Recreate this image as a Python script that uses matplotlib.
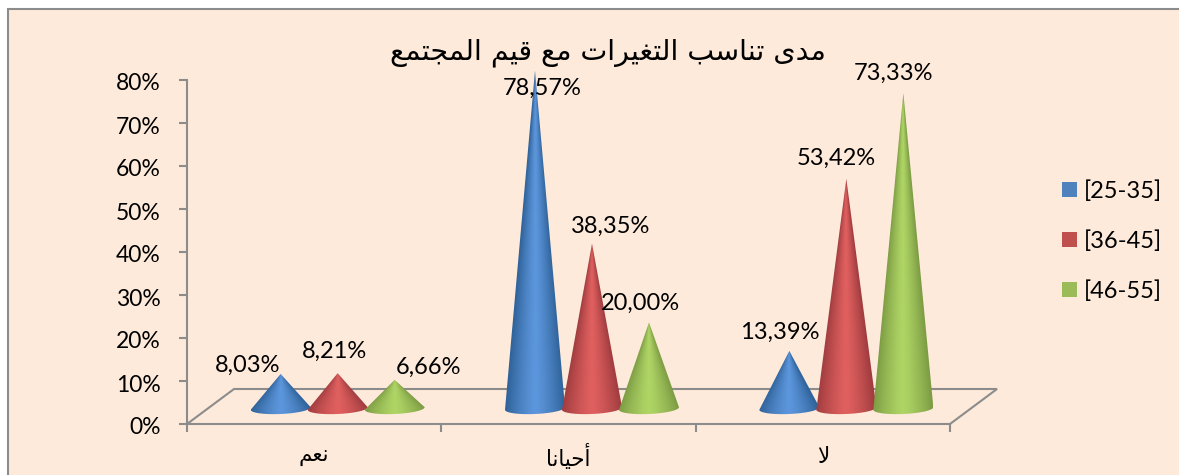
import numpy as np
import matplotlib
matplotlib.use("Agg")
import matplotlib.pyplot as plt
from matplotlib.patches import Polygon, Rectangle, Patch
from matplotlib.transforms import ScaledTranslation

W, H = 1179, 475

title = "مدى تناسب التغيرات مع قيم المجتمع"
categories = ["نعم", "أحيانا", "لا"]
series_names = ["[25-35]", "[36-45]", "[46-55]"]
values_25_35 = [8.03, 78.57, 13.39]
values_36_45 = [8.21, 38.35, 53.42]
values_46_55 = [6.66, 20.00, 73.33]
y_ticks = [0, 10, 20, 30, 40, 50, 60, 70, 80]

# legend colour, cone edge colour, cone centre colour
colors = [("#4F81BD", "#2f6299", "#5c96dc"),
          ("#C0504D", "#a03c3f", "#e0605f"),
          ("#9BBB59", "#7d9c44", "#afd565")]

# label offsets from the cone tip, in pixels (x right, y up)
label_offsets = [[(-33, 9), (7, -18), (-10, 19)],
                 [(-3, 22), (19, 17), (-10, 20)],
                 [(34, 13), (-9, 19), (-10, 20)]]

# matplotlib has no arabic shaping, so pick the presentation forms by hand
forms = {
    "ا": (0xFE8D, 0xFE8E), "أ": (0xFE83, 0xFE84), "د": (0xFEA9, 0xFEAA),
    "ر": (0xFEAD, 0xFEAE), "ى": (0xFEEF, 0xFEF0),
    "ب": (0xFE8F, 0xFE90, 0xFE91, 0xFE92), "ت": (0xFE95, 0xFE96, 0xFE97, 0xFE98),
    "ج": (0xFE9D, 0xFE9E, 0xFE9F, 0xFEA0), "ح": (0xFEA1, 0xFEA2, 0xFEA3, 0xFEA4),
    "س": (0xFEB1, 0xFEB2, 0xFEB3, 0xFEB4), "ع": (0xFEC9, 0xFECA, 0xFECB, 0xFECC),
    "غ": (0xFECD, 0xFECE, 0xFECF, 0xFED0), "ق": (0xFED5, 0xFED6, 0xFED7, 0xFED8),
    "ل": (0xFEDD, 0xFEDE, 0xFEDF, 0xFEE0), "م": (0xFEE1, 0xFEE2, 0xFEE3, 0xFEE4),
    "ن": (0xFEE5, 0xFEE6, 0xFEE7, 0xFEE8), "ي": (0xFEF1, 0xFEF2, 0xFEF3, 0xFEF4),
}

def shape(text):
    text = text.replace("لا", "\uFEFB")
    out = []
    for i, c in enumerate(text):
        if c not in forms:
            out.append(c)
            continue
        prev = text[i - 1] if i > 0 else " "
        nxt = text[i + 1] if i < len(text) - 1 else " "
        joins_prev = prev in forms and len(forms[prev]) == 4
        joins_next = len(forms[c]) == 4 and (nxt in forms or nxt == "\uFEFB")
        if joins_prev and joins_next:
            k = 3
        elif joins_next:
            k = 2
        elif joins_prev:
            k = 1
        else:
            k = 0
        out.append(chr(forms[c][k]))
    return "".join(out)[::-1]

plt.rcParams["font.family"] = ["Lato", "DejaVu Sans"]

fig = plt.figure(figsize=(W / 100, H / 100), dpi=100, facecolor="white")
fig.add_artist(Rectangle((8 / W, -0.1), 1.1, 0.1 + (H - 9) / H,
                         transform=fig.transFigure, facecolor="#FDEADA",
                         edgecolor="#8c8c8c", linewidth=1.5, zorder=-5))

ax = fig.add_axes([187 / W, (H - 424) / H, (950 - 187) / W, (424 - 80) / H])
ax.patch.set_alpha(0)
ax.set_xlim(-0.5, 2.5)
ax.set_ylim(0, 80)

unit_x = (950 - 187) / 3
unit_y = (424 - 80) / 80
depth_x = 47 / unit_x
depth_y = 35 / unit_y

# floor of the fake 3d box
floor = Polygon([(-0.5, 0), (-0.5 + depth_x, depth_y), (2.5 + depth_x, depth_y), (2.5, 0)],
                closed=False, fill=False, edgecolor="#8c8c8c", linewidth=1.5, clip_on=False)
ax.add_patch(floor)

spacing = 57 / unit_x
half_width = 30 / unit_x
base_level = 15.5 / unit_y
radius_y = 5.5 / unit_y
tilt = 1.3 / unit_y

all_values = [values_25_35, values_36_45, values_46_55]
for s, vals in enumerate(all_values):
    edge = np.array(matplotlib.colors.to_rgb(colors[s][1]))
    centre = np.array(matplotlib.colors.to_rgb(colors[s][2]))
    for c, v in enumerate(vals):
        xc = c + depth_x / 2 + (s - 1) * spacing
        tip = v + base_level
        theta = np.linspace(np.pi, 2 * np.pi, 40)
        arc_x = xc + half_width * np.cos(theta)
        arc_y = base_level + radius_y * np.sin(theta) + tilt * np.cos(theta)
        outline = np.vstack([[xc, tip], np.column_stack([arc_x, arc_y])])
        clip = Polygon(outline, closed=True, transform=ax.transData, facecolor="none", edgecolor="none")
        ax.add_patch(clip)

        low = base_level - radius_y - tilt
        gx = np.linspace(xc - half_width, xc + half_width, 120)
        gy = np.linspace(low, tip, 300)
        xx, yy = np.meshgrid(gx, gy)
        t = np.clip((yy - base_level) / (tip - base_level), 0, 0.995)
        u = np.clip(np.abs(xx - xc) / (half_width * (1 - t)), 0, 1)
        shade = (1 - u ** 1.3)[..., None]
        img = edge + (centre - edge) * shade
        im = ax.imshow(img, extent=(gx[0], gx[-1], gy[0], gy[-1]), origin="lower",
                       aspect="auto", zorder=3 + s, interpolation="bilinear")
        im.set_clip_box(fig.bbox)
        im.set_clip_path(clip)

        off = label_offsets[s][c]
        ax.annotate(f"{v:.2f}%".replace(".", ","), xy=(xc, tip), xytext=off,
                    textcoords="offset pixels", ha="center", va="center",
                    fontsize=17, color="black", zorder=10, annotation_clip=False)

ax.set_xlim(-0.5, 2.5)
ax.set_ylim(0, 80)

for side in ["top", "right"]:
    ax.spines[side].set_visible(False)
for side in ["left", "bottom"]:
    ax.spines[side].set_color("#8c8c8c")
    ax.spines[side].set_linewidth(1.5)

ax.set_yticks(y_ticks)
ax.set_yticklabels([f"{t}%" for t in y_ticks], fontsize=16.5, va="center_baseline")
ax.tick_params(axis="y", direction="out", length=6, width=1.5, color="#8c8c8c", pad=13)
# tick labels sit a little below their ticks in the original
for label in ax.get_yticklabels():
    label.set_transform(label.get_transform() + ScaledTranslation(0, -2 / 100, fig.dpi_scale_trans))
ax.set_xticks([-0.5, 0.5, 1.5, 2.5])
ax.set_xticklabels([])
ax.tick_params(axis="x", which="major", direction="out", length=6, width=1.5, color="#8c8c8c")
ax.set_xticks([0, 1, 2], minor=True)
ax.set_xticklabels([shape(c) for c in categories], minor=True, fontsize=15.5,
                   family=["DejaVu Sans"], va="center")
ax.tick_params(axis="x", which="minor", length=0, pad=24)

handles = [Patch(facecolor=colors[i][0], edgecolor="none") for i in range(3)]
fig.legend(handles, series_names, loc="center left", bbox_to_anchor=(1062 / W, (H - 241) / H),
           frameon=False, fontsize=17, handlelength=0.63, handleheight=0.63,
           handletextpad=0.3, labelspacing=1.2, borderpad=0, borderaxespad=0)

fig.text(608 / W, (H - 53) / H, shape(title), ha="center", va="center",
         fontsize=20.5, family=["DejaVu Sans"], color="black")

fig.savefig("out.png", dpi=100, facecolor=fig.get_facecolor())
